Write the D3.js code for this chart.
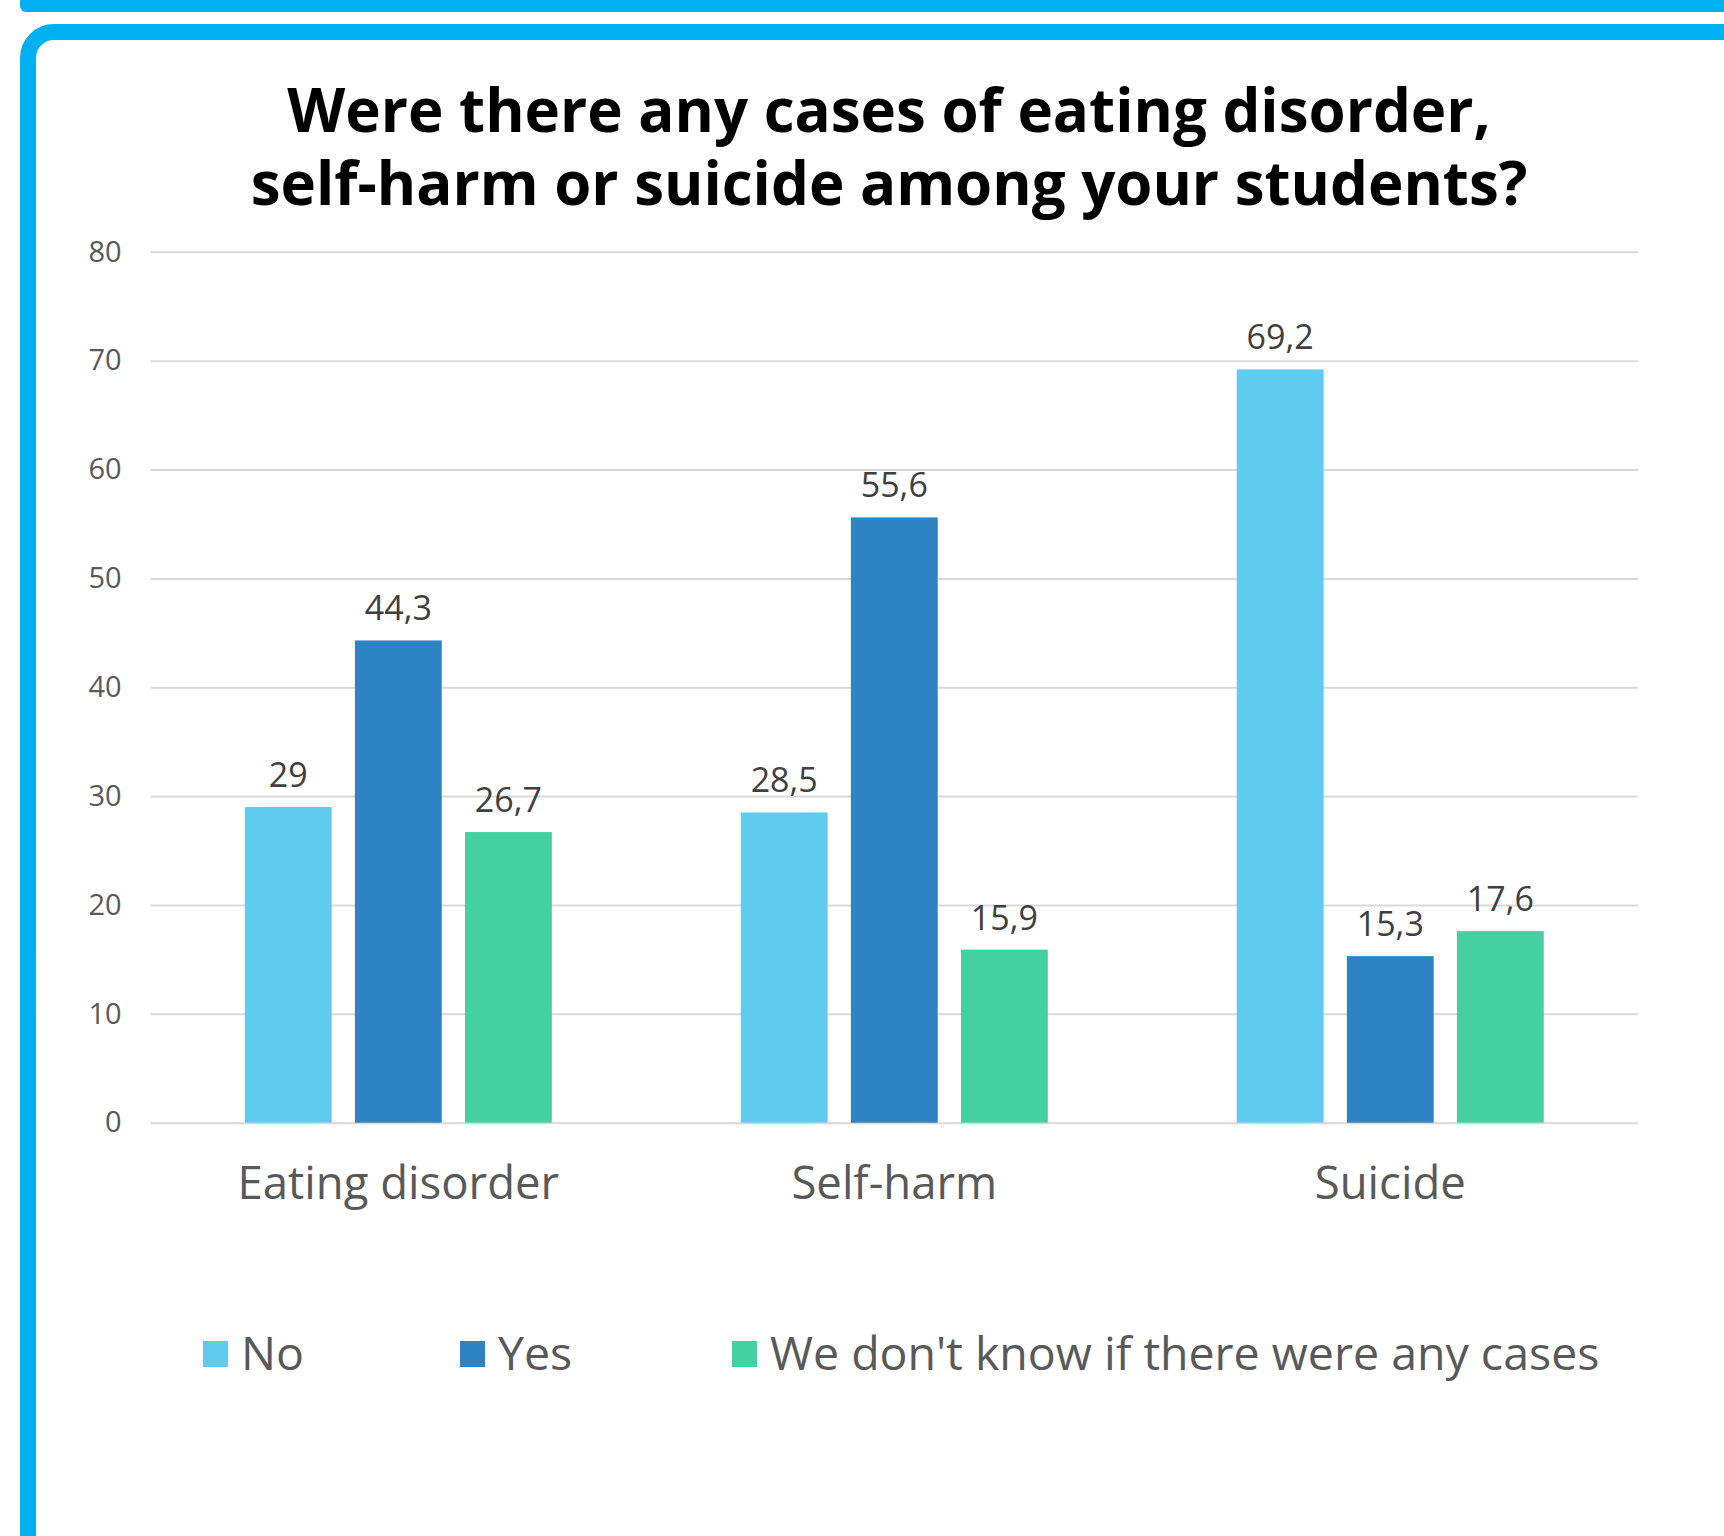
<!DOCTYPE html>
<html>
<head>
<meta charset="utf-8">
<script src="https://cdn.jsdelivr.net/npm/d3@7"></script>
<style>
  html, body { margin: 0; padding: 0; background: #ffffff; }
  svg { display: block; }
</style>
</head>
<body>
<script>
// ---- data ----
const titleLines = ["Were there any cases of eating disorder,", "self-harm or suicide among your students?"];
const categories = ["Eating disorder", "Self-harm", "Suicide"];
const seriesNames = ["No", "Yes", "We don't know if there were any cases"];
const noValues = [29, 28.5, 69.2];
const yesValues = [44.3, 55.6, 15.3];
const dontKnowValues = [26.7, 15.9, 17.6];
const yTicks = [0, 10, 20, 30, 40, 50, 60, 70, 80];

const seriesValues = [noValues, yesValues, dontKnowValues];
const colors = ["#5FCBEF", "#2E83C4", "#43D1A2"];

const W = 1724, H = 1536;
const svg = d3.select("body").append("svg").attr("width", W).attr("height", H);

// ---- frame ----
svg.append("rect").attr("x", 20).attr("y", -30).attr("width", W + 40).attr("height", 42)
  .attr("rx", 6).attr("fill", "#00B0F0");
svg.append("rect").attr("x", 28).attr("y", 32).attr("width", W + 60).attr("height", H + 40)
  .attr("rx", 26).attr("fill", "#ffffff").attr("stroke", "#00B0F0").attr("stroke-width", 16);

// ---- title ----
svg.append("g").selectAll("text").data(titleLines).join("text")
  .attr("text-anchor", "middle")
  .attr("font-family", "'Open Sans', sans-serif").attr("font-weight", 700)
  .attr("font-size", 60).attr("fill", "#000000")
  .attr("x", 889).attr("y", (d, i) => i === 0 ? 132 : 205).text(d => d);

// ---- scales ----
const y = d3.scaleLinear().domain([0, 80]).range([1122.7, 251.8]);
const x0 = d3.scaleBand().domain(categories).range([150.6, 1638]).paddingInner(0.381).paddingOuter(0.19);
const x1 = d3.scaleBand().domain(seriesNames).range([0, x0.bandwidth()]).paddingInner(0.211);

// ---- grid + y axis ----
const yAxis = d3.axisLeft(y).tickValues(yTicks).tickSize(-(1638 - 150.6)).tickPadding(29)
  .tickFormat(d => String(d));
const gy = svg.append("g").attr("transform", "translate(150.6,0)").call(yAxis);
gy.select(".domain").remove();
gy.selectAll(".tick line").attr("stroke", "#d9d9d9").attr("stroke-width", 2);
gy.selectAll(".tick text").attr("fill", "#595959").attr("font-size", 29)
  .attr("font-family", "'Open Sans', sans-serif");

// ---- bars ----
const groups = svg.append("g").selectAll("g").data(categories).join("g")
  .attr("transform", d => `translate(${x0(d)},0)`);

const cellData = (c, ci) => seriesNames.map((s, si) => ({s, si, v: seriesValues[si][ci]}));

groups.selectAll("rect").data(cellData)
  .join("rect")
  .attr("x", d => x1(d.s)).attr("width", x1.bandwidth())
  .attr("y", d => y(d.v)).attr("height", d => y(0) - y(d.v))
  .attr("fill", d => colors[d.si]);

groups.selectAll("text").data(cellData)
  .join("text")
  .attr("x", d => x1(d.s) + x1.bandwidth() / 2).attr("y", d => y(d.v) - 20)
  .attr("text-anchor", "middle").attr("font-family", "'Open Sans', sans-serif")
  .attr("font-size", 34).attr("fill", "#404040")
  .text(d => String(d.v).replace(".", ","));

// ---- x axis labels ----
const xAxis = d3.axisBottom(x0).tickSize(0).tickPadding(0);
const gx = svg.append("g").attr("transform", "translate(0,1122.7)").call(xAxis);
gx.select(".domain").remove();
gx.selectAll(".tick text").attr("fill", "#595959").attr("font-size", 45.5)
  .attr("font-family", "'Open Sans', sans-serif").attr("dy", null).attr("y", 76);

// ---- legend ----
const legendX = [203, 460, 732];
const legend = svg.append("g").selectAll("g").data(seriesNames).join("g")
  .attr("transform", (d, i) => `translate(${legendX[i]},0)`);
legend.append("rect").attr("x", 0).attr("y", 1341).attr("width", 25).attr("height", 26)
  .attr("fill", (d, i) => colors[i]);
legend.append("text").attr("x", 38).attr("y", 1370)
  .attr("font-family", "'Open Sans', sans-serif").attr("font-size", 46.5).attr("fill", "#595959")
  .text(d => d);
</script>
</body>
</html>
